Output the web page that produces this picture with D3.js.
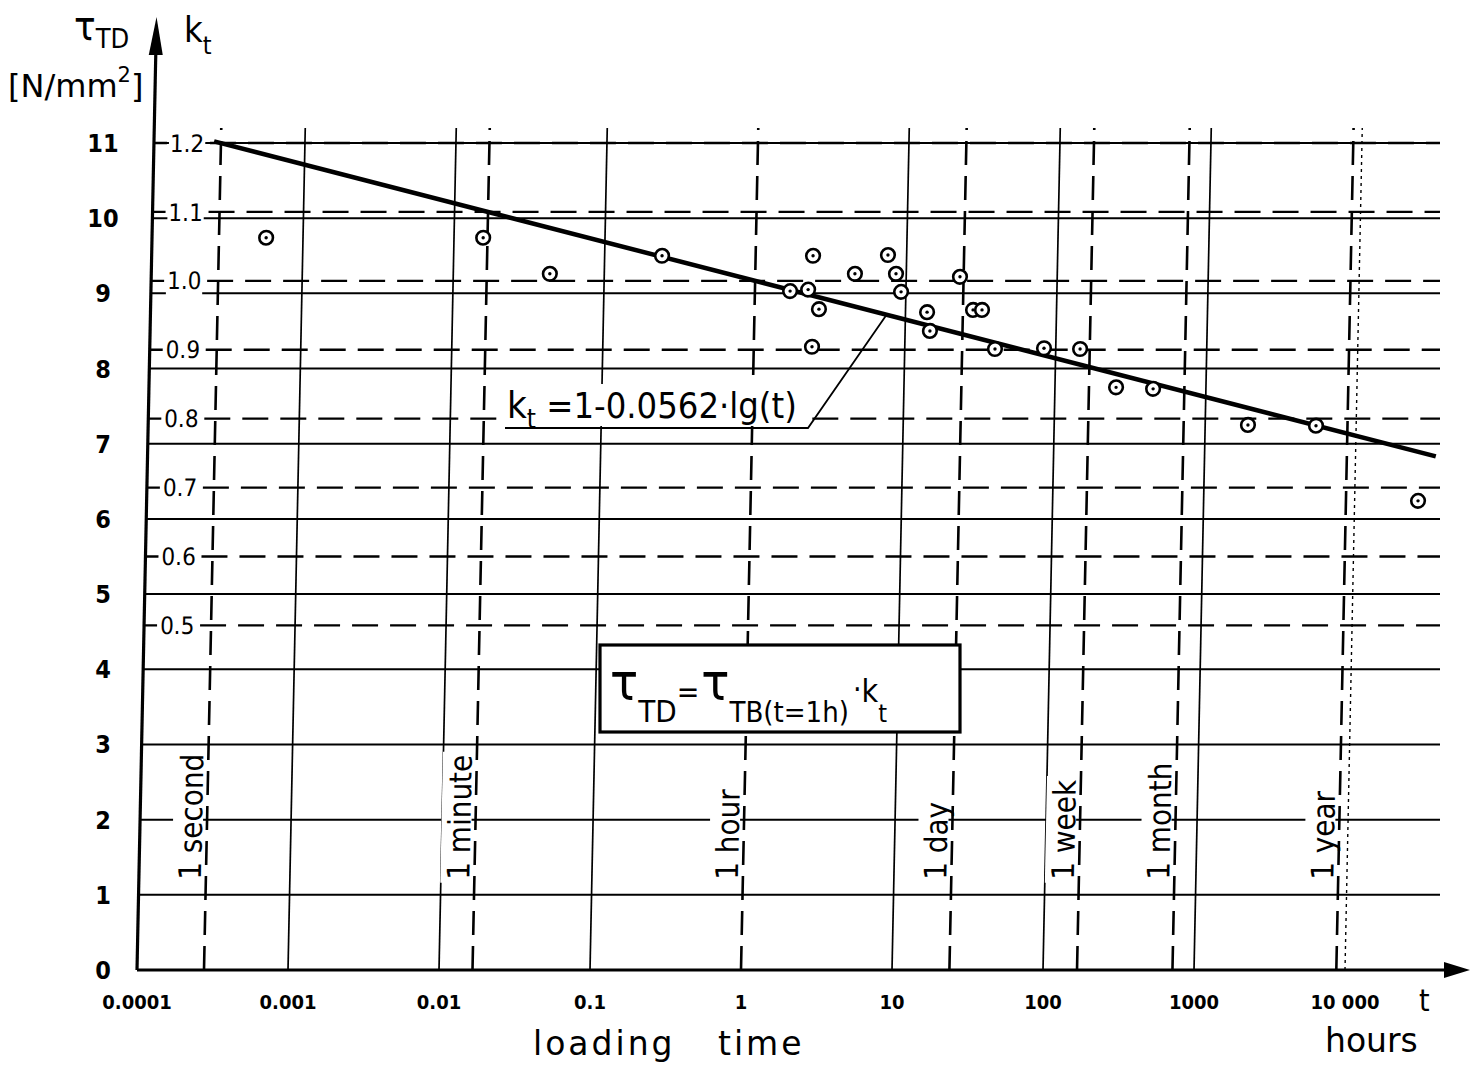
<!DOCTYPE html>
<html>
<head>
<meta charset="utf-8">
<script src="https://cdn.jsdelivr.net/npm/d3@7"></script>
<style>
body{margin:0;background:#fff}
text{font-family:"DejaVu Sans Condensed","DejaVu Sans",sans-serif;fill:#000}
</style>
</head>
<body>
<svg id="grafica"></svg>
<script>
// Resistencia al corte en función del tiempo de carga (escala log)

const svg_w = 1476;
const svg_h = 1066;
const margin = {l:137, t:143};
const viz_w = 1208;    // 8 décadas, 0.0001 .. 10 000 h
const viz_h = 827;     // tau 0 .. 11
const shear = 0.0205;  // el escaneo original está un poco inclinado

// datos
const tiempo_h = [0.00057, 0.0156, 0.0436, 0.24, 1.71, 2.25, 2.40, 2.67, 2.43, 4.57, 7.52, 8.55, 9.29,
                  13.9, 14.6, 22.7, 28.0, 32.1, 39.6, 83.6, 145, 254, 447, 1920, 5420, 26300];
const tau_td = [9.74, 9.74, 9.26, 9.50, 9.03, 9.05, 9.50, 8.79, 8.29, 9.26, 9.51, 9.26, 9.02,
                8.75, 8.50, 9.22, 8.78, 8.78, 8.26, 8.27, 8.26, 7.75, 7.73, 7.25, 7.24, 6.24];

const tau_ticks = [0,1,2,3,4,5,6,7,8,9,10,11];
const kt_ticks = [1.2,1.1,1.0,0.9,0.8,0.7,0.6,0.5];
const kt_labels = ["1.2","1.1","1.0","0.9","0.8","0.7","0.6","0.5"];
const t_ticks = [0.0001,0.001,0.01,0.1,1,10,100,1000,10000];
const t_labels = ["0.0001","0.001","0.01","0.1","1","10","100","1000","10 000"];
const decadas = [0.001,0.01,0.1,10,100,1000];   // líneas verticales continuas
const eventos = ["1 second","1 minute","1 hour","1 day","1 week","1 month","1 year"];
const eventos_h = [1/3600, 1/60, 1, 24, 168, 720, 8760];

// recta de regresión k_t = 1 - 0.0562·lg(t)
const recta_t = [0.00025, 34000];
const kt_a = 1;
const kt_b = 0.0562;
const tau_tb = 11/1.2;  // tau_TB(t=1h)
const kt = t => kt_a - kt_b*Math.log10(t);

let svg = d3.select("#grafica")
  .attr("width", svg_w)
  .attr("height", svg_h)

let x = d3.scaleLog().domain([1e-4,1e4]).range([0,viz_w]);
let y = d3.scaleLinear().domain([0,11]).range([viz_h,0]);

// grupo inclinado
let plot = svg.append("g")
  .attr("transform",`translate(${margin.l},${margin.t+viz_h}) matrix(1,0,${-shear},1,0,0) translate(0,${-viz_h})`)

const right_end = v => 1440 - margin.l - shear*(viz_h - y(v));

// fondo blanco detrás de un texto (hasta la línea base)
function fondo_blanco(g, pad) {
  let b = g.select("text").node().getBBox();
  g.insert("rect","text")
    .attr("x",b.x-pad).attr("y",b.y-pad)
    .attr("width",b.width+2*pad)
    .attr("height",b.height+2*pad)
    .attr("fill","#fff")
}

// líneas horizontales continuas (tau)
plot.append("g")
  .selectAll("line")
  .data(tau_ticks.filter(d=>d>0))
  .enter().append("line")
  .attr("x1",0).attr("x2",d=>right_end(d))
  .attr("y1",d=>y(d)).attr("y2",d=>y(d))
  .attr("stroke","#000").attr("stroke-width",2)

// líneas horizontales discontinuas (k_t)
plot.append("g")
  .selectAll("line")
  .data(kt_ticks)
  .enter().append("line")
  .attr("x1",56).attr("x2",d=>right_end(d*tau_tb))
  .attr("y1",d=>y(d*tau_tb)).attr("y2",d=>y(d*tau_tb))
  .attr("stroke","#000").attr("stroke-width",2.4)
  .attr("stroke-dasharray","26,12")

// verticales por década
plot.append("g")
  .selectAll("line")
  .data(decadas)
  .enter().append("line")
  .attr("x1",d=>x(d)).attr("x2",d=>x(d))
  .attr("y1",y(0)).attr("y2",y(11.2))
  .attr("stroke","#000").attr("stroke-width",1.7)

plot.append("line")
  .attr("x1",x(10000)).attr("x2",x(10000))
  .attr("y1",y(0)).attr("y2",y(11.2))
  .attr("stroke","#000").attr("stroke-width",1.4)
  .attr("stroke-dasharray","3,4")

// verticales de segundo, minuto, hora...
plot.append("g")
  .selectAll("line")
  .data(eventos_h)
  .enter().append("line")
  .attr("x1",d=>x(d)).attr("x2",d=>x(d))
  .attr("y1",y(0)).attr("y2",y(11.2))
  .attr("stroke","#000").attr("stroke-width",2.6)
  .attr("stroke-dasharray","24,11")

// rótulos verticales
let rotulos = plot.append("g")
  .selectAll("g")
  .data(eventos)
  .enter().append("g")
  .attr("transform",(d,i)=>`translate(${x(eventos_h[i])-5},${y(1.2)}) rotate(-90)`)
rotulos.append("text")
  .attr("font-size",31)
  .text(d=>d)
rotulos.each(function(){
  let g = d3.select(this);
  let b = g.select("text").node().getBBox();
  g.insert("rect","text")
    .attr("x",b.x-3).attr("y",b.y)
    .attr("width",b.width+6)
    .attr("height",-b.y+1)
    .attr("fill","#fff")
})

// eje y con flecha
plot.append("line")
  .attr("x1",0).attr("x2",0)
  .attr("y1",y(0)).attr("y2",-92)
  .attr("stroke","#000").attr("stroke-width",3.2)
plot.append("path")
  .attr("d","M-7,-88L7,-88L0,-126Z")
  .attr("fill","#000")

// marcas y rótulos de k_t
plot.append("g")
  .selectAll("line")
  .data(kt_ticks)
  .enter().append("line")
  .attr("x1",0).attr("x2",13)
  .attr("y1",d=>y(d*tau_tb)).attr("y2",d=>y(d*tau_tb))
  .attr("stroke","#000").attr("stroke-width",2.4)

let rot_kt = plot.append("g")
  .selectAll("g")
  .data(kt_ticks)
  .enter().append("g")
  .attr("transform",d=>`translate(16,${y(d*tau_tb)})`)
rot_kt.append("text")
  .attr("dy","0.36em")
  .attr("font-size",24)
  .text((d,i)=>kt_labels[i])
rot_kt.each(function(){ fondo_blanco(d3.select(this), 1) })

// recta de regresión
let linea = d3.line()
  .x(d=>x(d))
  .y(d=>y(kt(d)*tau_tb))

plot.append("path")
  .datum(recta_t)
  .attr("d",linea)
  .attr("fill","none")
  .attr("stroke","#000")
  .attr("stroke-width",4.5)

// puntos de ensayo
let puntos = plot.append("g")
  .selectAll("g")
  .data(tiempo_h)
  .enter().append("g")
  .attr("transform",(d,i)=>`translate(${x(d)},${y(tau_td[i])})`)
puntos.append("circle")
  .attr("r",6.8)
  .attr("fill","#fff")
  .attr("stroke","#000")
  .attr("stroke-width",2.6)
puntos.append("circle")
  .attr("r",1.7)
  .attr("fill","#000")

// eje x con flecha
svg.append("line")
  .attr("x1",margin.l).attr("x2",1448)
  .attr("y1",margin.t+viz_h).attr("y2",margin.t+viz_h)
  .attr("stroke","#000").attr("stroke-width",3.2)
svg.append("path")
  .attr("d",`M1444,${margin.t+viz_h-8}L1470,${margin.t+viz_h}L1444,${margin.t+viz_h+8}Z`)
  .attr("fill","#000")

// rótulos eje tau (izquierda)
svg.append("g")
  .selectAll("text")
  .data(tau_ticks)
  .enter().append("text")
  .attr("x",103)
  .attr("y",d=>margin.t+y(d))
  .attr("dy","0.36em")
  .attr("text-anchor","middle")
  .attr("font-size",25)
  .attr("font-weight","bold")
  .text(d=>d)

// rótulos eje t (abajo)
svg.append("g")
  .selectAll("text")
  .data(t_ticks)
  .enter().append("text")
  .attr("x",d=>margin.l+x(d))
  .attr("y",1009)
  .attr("text-anchor","middle")
  .attr("font-size",20)
  .attr("font-weight","bold")
  .text((d,i)=>t_labels[i])

svg.append("text").attr("x",1419).attr("y",1011).attr("font-size",30).text("t")
svg.append("text").attr("x",1325).attr("y",1052).attr("font-size",33)
  .style("font-family","'DejaVu Sans'").text("hours")
svg.append("text").attr("x",533).attr("y",1055).attr("font-size",33)
  .attr("letter-spacing",3)
  .style("font-family","'DejaVu Sans'").text("loading")
svg.append("text").attr("x",718).attr("y",1055).attr("font-size",33)
  .attr("letter-spacing",3)
  .style("font-family","'DejaVu Sans'").text("time")

// títulos de ejes arriba a la izquierda
let tt = svg.append("text").attr("x",74).attr("y",40)
tt.append("tspan").attr("font-size",40).text("τ")
tt.append("tspan").attr("font-size",27).attr("dy",8).text("TD")

let kk = svg.append("text").attr("x",184).attr("y",42)
kk.append("tspan").attr("font-size",36).text("k")
kk.append("tspan").attr("font-size",25).attr("dy",12).text("t")

let un = svg.append("text").attr("x",8).attr("y",97).style("font-family","'DejaVu Sans'")
un.append("tspan").attr("font-size",32).text("[N/mm")
un.append("tspan").attr("font-size",21).attr("dy",-15).text("2")
un.append("tspan").attr("font-size",32).attr("dy",15).text("]")

// fórmula de la recta con línea de referencia
let t_ref = 7.5;
let ref_y = y(kt(t_ref)*tau_tb);
let ref_px = margin.l + x(t_ref) + shear*(viz_h - ref_y);
let ref_py = margin.t + ref_y;

svg.append("rect")
  .attr("x",500).attr("y",384)
  .attr("width",312).attr("height",42)
  .attr("fill","#fff")

svg.append("polyline")
  .attr("points",`505,428 808,428 ${ref_px},${ref_py}`)
  .attr("fill","none")
  .attr("stroke","#000")
  .attr("stroke-width",1.8)

let fm = svg.append("text").attr("x",507).attr("y",418)
fm.append("tspan").attr("font-size",38).text("k")
fm.append("tspan").attr("font-size",26).attr("dy",10).text("t")
fm.append("tspan").attr("font-size",36).attr("dy",-10).text(" =1-0.0562·lg(t)")

// recuadro con la definición
svg.append("rect")
  .attr("x",600).attr("y",645)
  .attr("width",360).attr("height",87)
  .attr("fill","#fff")
  .attr("stroke","#000")
  .attr("stroke-width",3.2)

let bx = svg.append("text").attr("x",610)
bx.append("tspan").attr("y",700).attr("font-size",52).text("τ")
bx.append("tspan").attr("y",722).attr("font-size",31).text("TD")
bx.append("tspan").attr("y",702).attr("font-size",30).text("=")
bx.append("tspan").attr("y",700).attr("font-size",52).attr("dx",2).text("τ")
bx.append("tspan").attr("y",722).attr("font-size",29).text("TB(t=1h)")
bx.append("tspan").attr("y",700).attr("font-size",30).attr("dx",4).text("·")
bx.append("tspan").attr("y",702).attr("font-size",32).text("k")
bx.append("tspan").attr("y",722).attr("font-size",25).text("t")
</script>
</body>
</html>
